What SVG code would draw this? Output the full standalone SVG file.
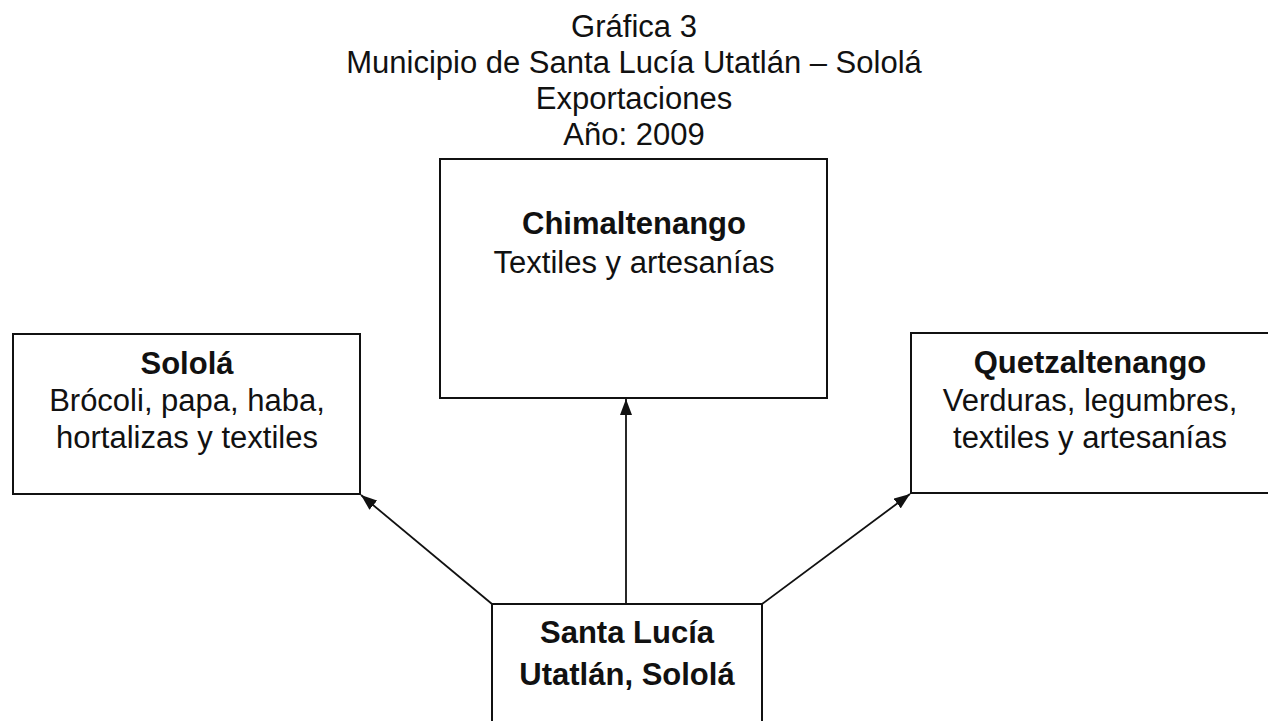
<svg xmlns="http://www.w3.org/2000/svg" width="1268" height="721" viewBox="0 0 1268 721">
<style>
text{font-family:"Liberation Sans",Arial,sans-serif;font-size:31px;fill:#111;text-anchor:middle}
.b{font-weight:bold}
.box{fill:#fff;stroke:#111;stroke-width:2}
.conn{stroke:#111;stroke-width:1.8;fill:none}
</style>
<defs>
<marker id="ah" viewBox="0 0 16 12" refX="16" refY="6" markerWidth="16" markerHeight="12" markerUnits="userSpaceOnUse" orient="auto">
<path d="M0,0 L16,6 L0,12 Z" fill="#111"/>
</marker>
</defs>
<rect width="1268" height="721" fill="#fff"/>
<g id="title">
<text x="634" y="37">Gráfica 3</text>
<text x="634" y="73">Municipio de Santa Lucía Utatlán – Sololá</text>
<text x="634" y="109">Exportaciones</text>
<text x="634" y="145">Año: 2009</text>
</g>
<g id="connectors">
<line class="conn" x1="492" y1="604" x2="361" y2="495" marker-end="url(#ah)"/>
<line class="conn" x1="626" y1="604" x2="626" y2="399" marker-end="url(#ah)"/>
<line class="conn" x1="762" y1="604" x2="910" y2="494" marker-end="url(#ah)"/>
</g>
<g id="chimaltenango">
<rect class="box" x="440" y="159" width="387" height="239"/>
<text class="b" x="634" y="234">Chimaltenango</text>
<text x="634" y="273">Textiles y artesanías</text>
</g>
<g id="solola">
<rect class="box" x="13" y="334" width="347" height="160"/>
<text class="b" x="187" y="374">Sololá</text>
<text x="187" y="411">Brócoli, papa, haba,</text>
<text x="187" y="448">hortalizas y textiles</text>
</g>
<g id="quetzaltenango">
<rect class="box" x="911" y="333" width="370" height="160"/>
<text class="b" x="1090" y="373">Quetzaltenango</text>
<text x="1090" y="411">Verduras, legumbres,</text>
<text x="1090" y="448">textiles y artesanías</text>
</g>
<g id="santalucia">
<rect class="box" x="492" y="604" width="270" height="140"/>
<text class="b" x="627" y="643">Santa Lucía</text>
<text class="b" x="627" y="685">Utatlán, Sololá</text>
</g>
</svg>
